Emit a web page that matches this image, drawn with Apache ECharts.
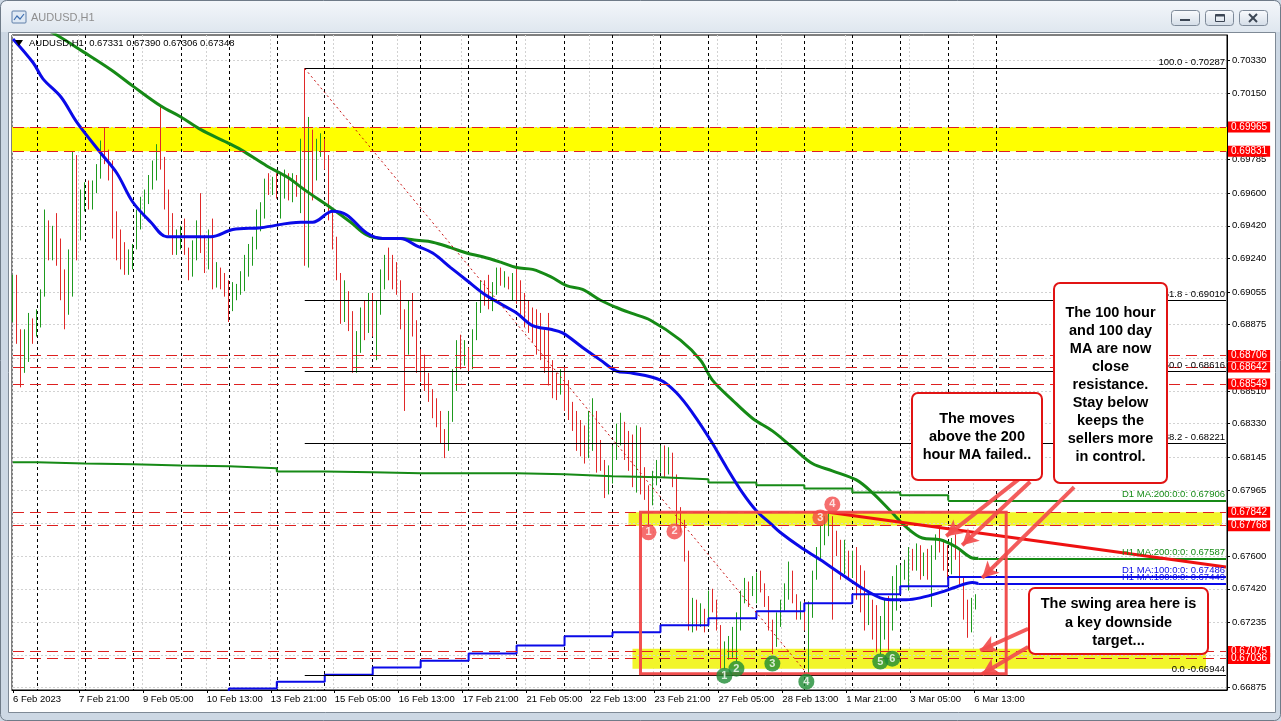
<!DOCTYPE html>
<html><head><meta charset="utf-8">
<script src="https://cdn.jsdelivr.net/npm/echarts@6/dist/echarts.min.js"></script>
<style>html,body{margin:0;padding:0;background:#cbd6e3;overflow:hidden}#c{width:1281px;height:721px}</style>
</head><body><div id="c"></div><script>
// ---------------- DATA ----------------
// 2-hour bars, bar j starts at hour 2*j counted from 6 Feb 2023 12:00 (server time)
const barOpen = [.6892,.6910,.6880,.6865,.6880,.6888,.6884,.6893,.6905,.6940,
.6932,.6938,.6928,.6905,.6895,.6922,.6965,.6940,.6955,.6962,
.6958,.6962,.6970,.6985,.6980,.6972,.6945,.6930,.6922,.6920,
.6925,.6930,.6948,.6952,.6958,.6967,.6972,.6983,.6978,.6955,
.6942,.6930,.6935,.6938,.6928,.6918,.6930,.6940,.6932,.6925,
.6935,.6912,.6915,.6910,.6906,.6896,.6905,.6908,.6913,.6922,
.6930,.6934,.6948,.6952,.6965,.6962,.6966,.6960,.6965,.6968,
.6962,.6966,.6963,.6980,.6955,.6985,.6975,.6985,.6988,.6978,
.6950,.6935,.6915,.6898,.6905,.6890,.6868,.6880,.6892,.6885,
.6898,.6888,.6895,.6912,.6922,.6918,.6912,.6908,.6890,.6880,
.6895,.6888,.6868,.6860,.6855,.6850,.6840,.6835,.6826,.6820,
.6835,.6858,.6870,.6866,.6874,.6866,.6880,.6895,.6905,.6902,
.6898,.6905,.6915,.6912,.6913,.6910,.6914,.6906,.6897,.6890,
.6886,.6882,.6876,.6872,.6866,.6860,.6852,.6850,.6858,.6845,
.6840,.6832,.6825,.6820,.6815,.6830,.6838,.6815,.6810,.6803,
.6806,.6815,.6828,.6832,.6820,.6812,.6805,.6818,.6800,.6795,
.6790,.6800,.6808,.6818,.6810,.6815,.6803,.6785,.6778,.6762,
.6725,.6730,.6722,.6730,.6724,.6735,.6732,.6722,.6703,.6708,
.6712,.6718,.6725,.6735,.6743,.6740,.6745,.6748,.6742,.6735,
.6722,.6712,.6725,.6732,.6742,.6750,.6738,.6728,.6732,.6724,
.6728,.6748,.6760,.6772,.6778,.6780,.6768,.6765,.6752,.6762,
.6750,.6758,.6742,.6735,.6725,.6732,.6720,.6712,.6718,.6730,
.6722,.6740,.6748,.6752,.6755,.6760,.6757,.6762,.6750,.6758,
.6752,.6760,.6768,.6764,.6758,.6752,.6765,.6762,.6748,.6730,
.6720,.67331];
const barClose = [.6910,.6880,.6865,.6880,.6888,.6884,.6893,.6905,.6940,.6932,
.6938,.6928,.6905,.6895,.6922,.6965,.6940,.6955,.6962,.6958,
.6962,.6970,.6985,.6980,.6972,.6945,.6930,.6922,.6920,.6925,
.6930,.6948,.6952,.6958,.6967,.6972,.6983,.6978,.6955,.6942,
.6930,.6935,.6938,.6928,.6918,.6930,.6940,.6932,.6925,.6935,
.6912,.6915,.6910,.6906,.6896,.6905,.6908,.6913,.6922,.6930,
.6934,.6948,.6952,.6965,.6962,.6966,.6960,.6965,.6968,.6962,
.6966,.6963,.6980,.6955,.6985,.6975,.6985,.6988,.6978,.6950,
.6935,.6915,.6898,.6905,.6890,.6868,.6880,.6892,.6885,.6898,
.6888,.6895,.6912,.6922,.6918,.6912,.6908,.6890,.6880,.6895,
.6888,.6868,.6860,.6855,.6850,.6840,.6835,.6826,.6820,.6835,
.6858,.6870,.6866,.6874,.6866,.6880,.6895,.6905,.6902,.6898,
.6905,.6915,.6912,.6913,.6910,.6914,.6906,.6897,.6890,.6886,
.6882,.6876,.6872,.6866,.6860,.6852,.6850,.6858,.6845,.6840,
.6832,.6825,.6820,.6815,.6830,.6838,.6815,.6810,.6803,.6806,
.6815,.6828,.6832,.6820,.6812,.6805,.6818,.6800,.6795,.6790,
.6800,.6808,.6818,.6810,.6815,.6803,.6785,.6778,.6762,.6725,
.6730,.6722,.6730,.6724,.6735,.6732,.6722,.6703,.6708,.6712,
.6718,.6725,.6735,.6743,.6740,.6745,.6748,.6742,.6735,.6722,
.6712,.6725,.6732,.6742,.6750,.6738,.6728,.6732,.6724,.6728,
.6748,.6760,.6772,.6778,.6780,.6768,.6765,.6752,.6762,.6750,
.6758,.6742,.6735,.6725,.6732,.6720,.6712,.6718,.6730,.6722,
.6740,.6748,.6752,.6755,.6760,.6757,.6762,.6750,.6758,.6752,
.6760,.6768,.6764,.6758,.6752,.6765,.6762,.6748,.6730,.6720,
.6733,.67348];
const barLow = [.6889,.6877,.6853,.6861,.6867,.6877,.6881,.6886,.6903,.6923,
.6923,.6920,.6901,.6885,.6893,.6903,.6923,.6934,.6950,.6951,
.6951,.6960,.6968,.6976,.6967,.6935,.6923,.6918,.6915,.6915,
.6918,.6929,.6940,.6946,.6954,.6962,.6967,.6973,.6951,.6937,
.6926,.6926,.6929,.6926,.6912,.6914,.6923,.6927,.6916,.6918,
.6907,.6908,.6907,.6903,.6889,.6895,.6901,.6904,.6906,.6914,
.6920,.6929,.6939,.6946,.6959,.6959,.6957,.6946,.6957,.6956,
.6955,.6958,.6949,.6920,.6919,.6956,.6967,.6980,.6973,.6945,
.6929,.6912,.6888,.6889,.6884,.6861,.6861,.6872,.6879,.6883,
.6881,.6868,.6893,.6907,.6912,.6907,.6904,.6885,.6840,.6871,
.6881,.6861,.6856,.6851,.6845,.6836,.6831,.6822,.6814,.6818,
.6834,.6851,.6863,.6865,.6862,.6863,.6879,.6894,.6898,.6896,
.6895,.6904,.6909,.6908,.6907,.6901,.6899,.6893,.6886,.6883,
.6878,.6871,.6868,.6861,.6854,.6847,.6846,.6849,.6840,.6835,
.6829,.6818,.6815,.6811,.6814,.6818,.6806,.6807,.6792,.6794,
.6800,.6813,.6821,.6813,.6807,.6798,.6795,.6794,.6791,.6776,
.6788,.6799,.6806,.6803,.6805,.6798,.6777,.6773,.6757,.6719,
.6718,.6719,.6721,.6718,.6721,.6729,.6719,.6698,.6698,.6703,
.6704,.6702,.6719,.6734,.6732,.6738,.6734,.6740,.6732,.6719,
.6706,.6710,.6721,.6730,.6736,.6734,.6725,.6725,.6719,.66944,
.6726,.6747,.6758,.6766,.6771,.6725,.6760,.6747,.6750,.6747,
.6748,.6736,.6729,.6719,.6722,.6714,.6707,.6706,.6714,.6708,
.6719,.6730,.6741,.6747,.6741,.6752,.6752,.6747,.6749,.6747,
.6732,.6758,.6762,.6752,.6747,.6750,.6758,.6744,.6725,.6715,
.6718,.67306];
const barHigh = [.6915,.6915,.6885,.6885,.6894,.6891,.6896,.6907,.6951,.6945,
.6942,.6949,.6935,.6918,.6929,.6983,.6981,.6962,.6966,.6967,
.6967,.6976,.6989,.6996,.6984,.6978,.6950,.6940,.6933,.6929,
.6932,.6951,.6958,.6962,.6970,.6978,.6987,.7008,.6980,.6962,
.6949,.6940,.6942,.6946,.6930,.6934,.6945,.6960,.6937,.6940,
.6946,.6922,.6919,.6916,.6912,.6911,.6910,.6917,.6926,.6932,
.6936,.6951,.6955,.6968,.6971,.6969,.6971,.6971,.6973,.6971,
.6971,.6970,.6990,.70287,.7002,.6995,.6990,.6993,.6990,.6981,
.6951,.6936,.6916,.6912,.6906,.6895,.6884,.6897,.6901,.6905,
.6905,.6901,.6918,.6926,.6930,.6926,.6922,.6912,.6896,.6901,
.6905,.6890,.6874,.6871,.6861,.6852,.6847,.6840,.6830,.6840,
.6863,.6879,.6882,.6879,.6875,.6885,.6900,.6912,.6912,.6915,
.6911,.6919,.6919,.6917,.6914,.6916,.6920,.6912,.6905,.6901,
.6897,.6896,.6894,.6885,.6894,.6868,.6861,.6863,.6864,.6857,
.6845,.6840,.6835,.6832,.6840,.6847,.6840,.6824,.6813,.6810,
.6821,.6833,.6839,.6834,.6829,.6827,.6832,.6831,.6809,.6799,
.6807,.6813,.6821,.6821,.6820,.6817,.6805,.6787,.6780,.6763,
.6737,.6736,.6734,.6731,.6741,.6742,.6736,.6722,.6713,.6716,
.6721,.6729,.6741,.6748,.6746,.6749,.6751,.6752,.6745,.6738,
.6725,.6729,.6736,.6745,.6757,.6752,.6739,.6735,.6735,.6735,
.6752,.6765,.6777,.6782,.6784,.6782,.6774,.6769,.6769,.6763,
.6763,.6765,.6755,.6752,.6741,.6736,.6733,.6727,.6736,.6738,
.6749,.6755,.6755,.6758,.6765,.6764,.6767,.6766,.6762,.6764,
.6766,.6772,.6775,.6769,.6766,.6770,.6772,.6763,.6748,.6736,
.6737,.6739];
const barHoursPerBar = 2;

// moving averages: [hour index, price]
const ma100H1 = [[0,.7045],[10,.7032],[15,.7023],[24,.7013],[32,.6999],[44,.6982],[52,.6971],[60,.6955],[69,.6944],[77,.6936],[87,.6936],[99,.6936],[110,.6940],[124,.6941],[144,.6944],[150,.6944],[160,.6950],[167,.6948],[177,.6938],[185,.6935],[194,.6935],[202,.6931],[210,.6927],[219,.6919],[227,.6912],[235,.6905],[244,.6899],[252,.6894],[260,.6887],[269,.6885],[275,.6883],[285,.6875],[294,.6868],[302,.6862],[309,.6861],[324,.6857],[332,.6850],[340,.6839],[349,.6824],[357,.6809],[365,.6795],[372,.6785],[379,.6778],[384,.6773],[394,.6765],[404,.6758],[412,.6752],[424,.6743],[434,.6737],[439,.6736],[447,.6736],[454,.6737],[464,.6740],[472,.6743],[480,.67455],[483,.67449]];
const ma200H1 = [[0,.7060],[22,.7047],[35,.7038],[49,.7028],[60,.7019],[74,.7008],[84,.7002],[94,.6995],[107,.6988],[114,.6984],[127,.6975],[137,.6969],[147,.6961],[159,.6952],[169,.6944],[177,.6937],[185,.6935],[194,.6935],[202,.6934],[210,.6933],[219,.6930],[227,.6927],[235,.6925],[244,.6922],[252,.6919],[260,.6918],[269,.6914],[277,.6909],[285,.6907],[294,.6901],[302,.6897],[309,.6894],[319,.6890],[334,.6879],[344,.6868],[350,.6857],[360,.6846],[370,.6836],[380,.6829],[390,.6820],[400,.6811],[410,.6807],[422,.6802],[430,.6795],[439,.6785],[447,.6776],[455,.6770],[464,.6769],[472,.6765],[480,.6759],[483,.67587]];
const dayStartHours = [0,12,36,60,84,108,132,156,180,204,228,252,276,300,324,348,372,396,420,444,468];
const ma200D1 = [.68117,.68111,.68106,.68100,.68095,.68084,.68067,.68062,.68056,.68056,.68056,.68051,.68040,.68034,.68023,.68006,.67990,.67973,.67951,.67935,.67906];
const ma100D1 = [.6672,.6674,.6677,.6680,.66830,.66870,.66908,.66947,.66986,.67024,.67063,.67107,.67158,.67180,.67219,.67257,.67296,.67340,.67390,.67434,.67486];
const maLastValues = {h1_100: .67449, h1_200: .67587, d1_100: .67486, d1_200: .67906};

// axes
const hourSlots = 608;
const separatorHours = [12,36,60,84,108,132,156,180,204,228,252,276,300,324,348,372,396,420,444,468,492];
const timeLabelHours = [0,33,65,97,129,161,193,225,257,289,321,353,385,417,449,481];
const timeLabels = ['6 Feb 2023','7 Feb 21:00','9 Feb 05:00','10 Feb 13:00','13 Feb 21:00','15 Feb 05:00','16 Feb 13:00','17 Feb 21:00','21 Feb 05:00','22 Feb 13:00','23 Feb 21:00','27 Feb 05:00','28 Feb 13:00','1 Mar 21:00','3 Mar 05:00','6 Mar 13:00'];
const priceGrid = [0.70330,0.70150,0.69965,0.69785,0.69600,0.69420,0.69240,0.69055,0.68875,0.68690,0.68510,0.68330,0.68145,0.67965,0.67780,0.67600,0.67420,0.67235,0.67055,0.66875];
const priceLabels = [0.70330,0.70150,0.69785,0.69600,0.69420,0.69240,0.69055,0.68875,0.68510,0.68330,0.68145,0.67965,0.67600,0.67420,0.67235,0.66875];
const priceMin = 0.668623, priceMax = 0.704716;

// levels & drawings
const srLevels = [0.69965,0.69831,0.68706,0.68642,0.68549,0.67842,0.67768,0.67075,0.67036];
const lastPrice = 0.67348;
const fibStartHour = 146;
const fibLevels = [['100.0',0.70287],['61.8',0.69010],['50.0',0.68616],['38.2',0.68221],['0.0',0.66944]];
const fibLine = [[146,0.70287],[398,0.66944]];
const trendLine1 = [[110,0.6890],[384,0.6686]];
const trendLine2 = [[408,0.67842],[607,0.6754]];
const swingRect = [[314,0.67842],[497,0.66952]];
const bandUpper = [0.69831,0.69965];
const bandMid = [[308,0.67842],[605,0.67768]];
const bandLow = [[310,0.6709],[597,0.6698]];
const arrows = [[[504,0.6803],[467,0.6771]],[[509,0.6801],[475,0.6766]],[[531,0.6798],[485,0.6748]],[[508,0.6720],[484,0.6708]],[[508,0.6710],[485,0.6695]]];
const redMarks = [[318,0.67731,'1'],[331,0.67736,'2'],[404,0.67813,'3'],[410,0.67885,'4']];
const greenMarks = [[356,0.66941,'1'],[362,0.66980,'2'],[380,0.67008,'3'],[397,0.66908,'4'],[434,0.67019,'5'],[440,0.67035,'6']];
const headerText = 'AUDUSD,H1  0.67331 0.67390 0.67306 0.67348';
const noteMoves = 'The moves\nabove the 200\nhour MA failed..';
const noteMA = 'The 100 hour\nand 100 day\nMA are now\nclose\nresistance.\nStay below\nkeeps the\nsellers more\nin control.';
const noteSwing = 'The swing area here is\na key downside\ntarget...';

// ---------------- CHART ----------------
const FONT = '"Liberation Sans", Arial, sans-serif';
const LAST = hourSlots - 1;
const cats = []; for (let i = 0; i < hourSlots; i++) cats.push(String(i));
const labelMap = {}; timeLabelHours.forEach((h, i) => labelMap[h] = timeLabels[i]);
const isLabel = (idx) => labelMap[idx] !== undefined;
const candles = barOpen.map((o, j) => [j * barHoursPerBar, o, barClose[j], Math.min(barLow[j], o, barClose[j]), Math.max(barHigh[j], o, barClose[j])]);
const stepData = (vals) => dayStartHours.map((h, i) => [h, vals[i]]);
const hLine = (v, style, label) => [{coord: [0, v], lineStyle: style, label: label || {show: false}}, {coord: [LAST, v]}];
const UP = '#1e9a1e', DN = '#e02828', GREEN = '#168a16', BLUE = '#0a0ae8', RED = '#ee1111', SALMON = 'rgba(242,78,78,0.92)';

const chart = echarts.init(document.getElementById('c'), null, {renderer: 'canvas'});
const smallLabel = {fontFamily: FONT, fontSize: 9.5};
const priceTag = (v, bg) => ({show: true, position: 'end', distance: 2, formatter: v.toFixed(5), color: '#fff', backgroundColor: bg, padding: [1, 3, 0, 3], fontFamily: FONT, fontSize: 10});
const note = (x, y, w, h, text, cx, cy, lh) => ({type: 'group', z: 100, silent: true, children: [
  {type: 'rect', z: 100, shape: {x: x, y: y, width: w, height: h, r: 6}, style: {fill: '#fff', stroke: '#e11414', lineWidth: 2}},
  {type: 'text', z: 101, style: {text: text, x: cx, y: cy, font: 'bold 14.5px ' + FONT, fill: '#000', align: 'center', textAlign: 'center', verticalAlign: 'middle', textVerticalAlign: 'middle', lineHeight: lh}}
]});

chart.setOption({
  animation: false,
  backgroundColor: 'transparent',
  grid: {left: 12, right: 54, top: 35, bottom: 31, show: true, borderColor: '#000', borderWidth: 1, backgroundColor: 'transparent'},
  xAxis: {
    type: 'category', data: cats, boundaryGap: true,
    axisLine: {show: true, lineStyle: {color: '#000', width: 1}},
    axisTick: {show: true, interval: isLabel, alignWithLabel: true, length: 3, lineStyle: {color: '#000'}},
    axisLabel: {interval: isLabel, formatter: (v) => labelMap[+v] || '', align: 'left', margin: 4, color: '#000', fontFamily: FONT, fontSize: 9.5},
    splitLine: {show: true, interval: isLabel, lineStyle: {color: '#d2d2d2', type: [2, 2], width: 1}}
  },
  yAxis: {
    type: 'value', position: 'right', min: priceMin, max: priceMax, scale: true,
    axisLine: {show: true, lineStyle: {color: '#000'}},
    axisTick: {show: true, customValues: priceGrid, length: 3, lineStyle: {color: '#000'}},
    axisLabel: {customValues: priceLabels, formatter: (v) => v.toFixed(5), color: '#000', margin: 5, fontFamily: FONT, fontSize: 9.5},
    splitLine: {show: false}
  },
  series: [
    { // background: grid, separators, bands
      type: 'line', name: 'bg', data: [], silent: true,
      markArea: {silent: true, z: 1, data: [
        [{yAxis: bandUpper[0], itemStyle: {color: '#ffff00'}}, {yAxis: bandUpper[1]}],
        [{coord: bandMid[0], itemStyle: {color: '#f2f52a'}}, {coord: bandMid[1]}],
        [{coord: bandLow[0], itemStyle: {color: '#f2f52a'}}, {coord: bandLow[1]}]
      ]},
      markLine: {silent: true, symbol: ['none', 'none'], z: 1, label: {show: false},
        data: priceGrid.map(v => hLine(v, {color: '#d2d2d2', type: [2, 2], width: 1}))
          .concat(separatorHours.map(h => [{coord: [h, priceMax], lineStyle: {color: '#000', type: [3, 3], width: 1}, label: {show: false}}, {coord: [h, priceMin]}]))
      }
    },
    {
      type: 'candlestick', name: 'AUDUSD', data: candles, encode: {x: 0, y: [1, 2, 3, 4]},
      barWidth: 1, silent: true,
      itemStyle: {color: UP, color0: DN, borderColor: UP, borderColor0: DN, borderWidth: 1}
    },
    {type: 'line', name: 'D1 MA200', data: stepData(ma200D1), step: 'end', showSymbol: false, silent: true,
      lineStyle: {color: GREEN, width: 2},
      markLine: {silent: true, symbol: ['none', 'none'], data: [[{coord: [468, maLastValues.d1_200], label: {show: true, position: 'insideEndTop', distance: 1, color: GREEN, formatter: 'D1 MA:200:0:0: ' + maLastValues.d1_200.toFixed(5), ...smallLabel}}, {coord: [LAST, maLastValues.d1_200]}]], lineStyle: {color: GREEN, width: 2, type: 'solid'}}},
    {type: 'line', name: 'D1 MA100', data: stepData(ma100D1), step: 'end', showSymbol: false, silent: true,
      lineStyle: {color: BLUE, width: 2},
      markLine: {silent: true, symbol: ['none', 'none'], data: [[{coord: [468, maLastValues.d1_100], label: {show: true, position: 'insideEndTop', distance: 1, color: BLUE, formatter: 'D1 MA:100:0:0: ' + maLastValues.d1_100.toFixed(5), ...smallLabel}}, {coord: [LAST, maLastValues.d1_100]}]], lineStyle: {color: BLUE, width: 2, type: 'solid'}}},
    {type: 'line', name: 'H1 MA200', data: ma200H1, smooth: 0.35, showSymbol: false, silent: true,
      lineStyle: {color: GREEN, width: 3},
      markLine: {silent: true, symbol: ['none', 'none'], data: [[{coord: [483, maLastValues.h1_200], label: {show: true, position: 'insideEndTop', distance: 1, color: GREEN, formatter: 'H1 MA:200:0:0: ' + maLastValues.h1_200.toFixed(5), ...smallLabel}}, {coord: [LAST, maLastValues.h1_200]}]], lineStyle: {color: GREEN, width: 2, type: 'solid'}}},
    {type: 'line', name: 'H1 MA100', data: ma100H1, smooth: 0.35, showSymbol: false, silent: true,
      lineStyle: {color: BLUE, width: 3},
      markLine: {silent: true, symbol: ['none', 'none'], data: [[{coord: [483, maLastValues.h1_100], label: {show: true, position: 'insideEndTop', distance: 1, color: BLUE, formatter: 'H1 MA:100:0:0: ' + maLastValues.h1_100.toFixed(5), ...smallLabel}}, {coord: [LAST, maLastValues.h1_100]}]], lineStyle: {color: BLUE, width: 2, type: 'solid'}}},
    { // support / resistance levels with price tags
      type: 'line', name: 'levels', data: [], silent: true,
      markLine: {silent: true, symbol: ['none', 'none'], z: 5, data: [
        ...srLevels.map(v => hLine(v, {color: '#dd2020', type: [11, 6], width: 1}, priceTag(v, '#ff0000'))),
        hLine(lastPrice, {opacity: 0, width: 0}, priceTag(lastPrice, '#000'))
      ]}
    },
    { // drawings on top
      type: 'line', name: 'drawings', data: [], silent: true,
      markArea: {silent: true, z: 6, data: [[{coord: swingRect[0], itemStyle: {color: 'rgba(0,0,0,0)', borderColor: 'rgba(240,70,70,0.95)', borderWidth: 3}}, {coord: swingRect[1]}]]},
      markLine: {silent: true, symbol: ['none', 'none'], z: 5, data: [
        ...fibLevels.map(([p, v]) => [{coord: [fibStartHour, v], lineStyle: {color: '#000', width: 1, type: 'solid'},
          label: {show: true, position: 'insideEndTop', distance: 1, color: '#000', formatter: p === '0.0' ? p + ' -' + v.toFixed(5) : p + ' - ' + v.toFixed(5), ...smallLabel}}, {coord: [LAST, v]}]),
        [{coord: fibLine[0], lineStyle: {color: '#c81010', width: 1, type: [2, 3]}, label: {show: false}}, {coord: fibLine[1]}],
        [{coord: trendLine1[0], lineStyle: {color: RED, width: 3, type: 'solid'}, label: {show: false}}, {coord: trendLine1[1]}],
        [{coord: trendLine2[0], lineStyle: {color: RED, width: 3, type: 'solid'}, label: {show: false}}, {coord: trendLine2[1]}],
        ...arrows.map(a => [{coord: a[0], symbol: 'none', lineStyle: {color: SALMON, width: 4, type: 'solid'}, label: {show: false}}, {coord: a[1], symbol: 'arrow', symbolSize: [13, 16]}])
      ]}
    },
    {
      type: 'scatter', name: 'marks', silent: true, z: 10, symbolSize: 16,
      data: redMarks.map(m => ({value: [m[0], m[1]], name: m[2], itemStyle: {color: '#f24a4a'}}))
        .concat(greenMarks.map(m => ({value: [m[0], m[1]], name: m[2], itemStyle: {color: '#1e8c34'}}))),
      label: {show: true, position: 'inside', formatter: p => p.name, color: '#fff', fontFamily: FONT, fontSize: 11, fontWeight: 'bold'}
    }
  ],
  graphic: [
    {type: 'rect', z: -20, silent: true, shape: {x: 0, y: 0, width: 1281, height: 721}, style: {fill: '#cdd8e4'}},
    {type: 'rect', z: -19, silent: true, shape: {x: 1, y: 1, width: 1279, height: 31, r: [6, 6, 0, 0]},
      style: {fill: new echarts.graphic.LinearGradient(0, 0, 0, 1, [{offset: 0, color: '#f3f6fa'}, {offset: 1, color: '#dfe7ef'}])}},
    {type: 'rect', z: -19, silent: true, shape: {x: 0.5, y: 0.5, width: 1280, height: 720, r: 6}, style: {fill: 'none', stroke: '#6f7b88', lineWidth: 1}},
    {type: 'rect', z: -18, silent: true, shape: {x: 8.5, y: 32.5, width: 1267, height: 680}, style: {fill: '#ffffff', stroke: '#7f8a96', lineWidth: 1}},
    {type: 'rect', z: -17, silent: true, shape: {x: 12, y: 11, width: 14, height: 12, r: 1}, style: {fill: '#dfe9f4', stroke: '#5f7fa8', lineWidth: 1}},
    {type: 'polyline', z: -16, silent: true, shape: {points: [[14, 20], [17, 16], [20, 19], [24, 14]]}, style: {stroke: '#3f6fb0', lineWidth: 1.2, fill: 'none'}},
    {type: 'text', z: -16, silent: true, style: {text: 'AUDUSD,H1', x: 31, y: 18, font: '11px ' + FONT, fill: '#8e8e8e', verticalAlign: 'middle', textVerticalAlign: 'middle'}},
    ...[1171, 1205, 1239].map(x => ({type: 'rect', z: -16, silent: true, shape: {x: x + 0.5, y: 10.5, width: 28, height: 15, r: 3},
      style: {fill: new echarts.graphic.LinearGradient(0, 0, 0, 1, [{offset: 0, color: '#fbfcfe'}, {offset: 1, color: '#d3dce7'}]), stroke: '#7d8998', lineWidth: 1}})),
    {type: 'rect', z: -15, silent: true, shape: {x: 1180, y: 19, width: 10, height: 2}, style: {fill: '#3c4654'}},
    {type: 'rect', z: -15, silent: true, shape: {x: 1215.5, y: 14.5, width: 9, height: 7}, style: {fill: 'none', stroke: '#3c4654', lineWidth: 1}},
    {type: 'rect', z: -15, silent: true, shape: {x: 1215.5, y: 14.5, width: 9, height: 2}, style: {fill: '#3c4654'}},
    {type: 'polyline', z: -15, silent: true, shape: {points: [[1249, 14], [1257, 22]]}, style: {stroke: '#3c4654', lineWidth: 2}},
    {type: 'polyline', z: -15, silent: true, shape: {points: [[1257, 14], [1249, 22]]}, style: {stroke: '#3c4654', lineWidth: 2}},
    {type: 'polygon', z: 50, silent: true, shape: {points: [[15, 40], [23, 40], [19, 46]]}, style: {fill: '#000'}},
    {type: 'text', z: 50, silent: true, style: {text: headerText, x: 29, y: 43, font: '9.5px ' + FONT, fill: '#000', verticalAlign: 'middle', textVerticalAlign: 'middle'}},
    note(912, 393, 130, 87, noteMoves, 977, 437, 18),
    note(1054, 283, 113, 200, noteMA, 1110.5, 385, 18.1),
    note(1029, 588, 179, 66, noteSwing, 1118.5, 622.5, 18.5)
  ]
});
</script></body></html>
